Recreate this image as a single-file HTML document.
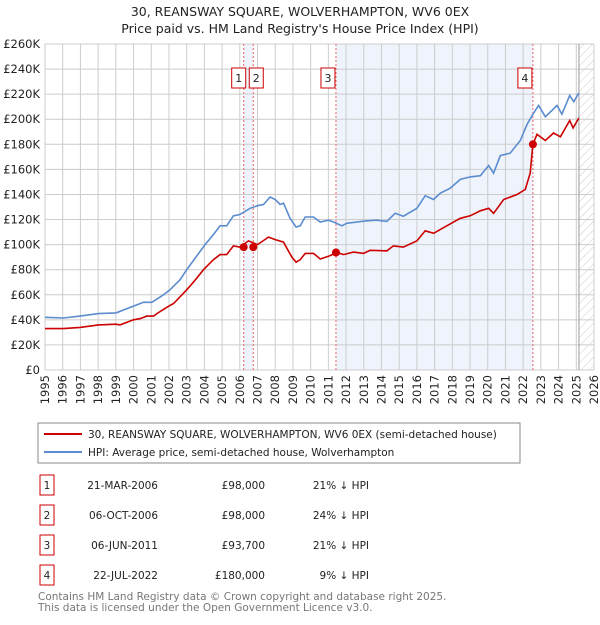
<!DOCTYPE html>
<html><head><meta charset="utf-8"><style>
body{margin:0;background:#fff;font-family:"Liberation Sans","DejaVu Sans",sans-serif;}
svg text{font-family:"DejaVu Sans","Liberation Sans",sans-serif;}
</style></head><body>
<svg id="c" width="600" height="620" xmlns="http://www.w3.org/2000/svg">
<defs><pattern id="hatch" width="6" height="6" patternUnits="userSpaceOnUse" patternTransform="rotate(45)"><line x1="0" y1="0" x2="0" y2="6" stroke="#ccc" stroke-width="1"/></pattern></defs>
<text x="300" y="16" text-anchor="middle" font-size="12.5" fill="#222">30, REANSWAY SQUARE, WOLVERHAMPTON, WV6 0EX</text>
<text x="300" y="33" text-anchor="middle" font-size="12.5" fill="#222">Price paid vs. HM Land Registry's House Price Index (HPI)</text>
<g id="plot"></g>
<rect x="38" y="423" width="482" height="40" fill="#fff" stroke="#888"/>
<line x1="44" y1="434" x2="82" y2="434" stroke="#cc0000" stroke-width="2"/>
<text x="88" y="438" font-size="10.5" fill="#222">30, REANSWAY SQUARE, WOLVERHAMPTON, WV6 0EX (semi-detached house)</text>
<line x1="44" y1="452" x2="82" y2="452" stroke="#5b8ccf" stroke-width="2"/>
<text x="88" y="456" font-size="10.5" fill="#222">HPI: Average price, semi-detached house, Wolverhampton</text>
<g id="tbl" font-size="10.5" fill="#222"></g>
<text x="38" y="600" font-size="10.5" fill="#777">Contains HM Land Registry data © Crown copyright and database right 2025.</text>
<text x="38" y="611" font-size="10.5" fill="#777">This data is licensed under the Open Government Licence v3.0.</text>
</svg>
<script>
const hpiYears=[1995,1996.04,1996.98,1998.01,1999.01,2000,2000.56,2001.03,2001.69,2002.06,2002.63,2003,2003.57,2004.04,2004.51,2004.89,2005.26,2005.64,2006,2006.58,2007,2007.34,2007.71,2008,2008.28,2008.47,2008.84,2009.18,2009.41,2009.69,2010.16,2010.54,2011.01,2011.29,2011.76,2012.04,2012.61,2013.17,2013.74,2014.3,2014.77,2015.24,2016,2016.47,2016.94,2017.32,2017.88,2018.45,2019.01,2019.58,2020.05,2020.33,2020.71,2021.27,2021.84,2022.22,2022.59,2022.87,2023.25,2023.62,2023.91,2024.19,2024.63,2024.86,2025.14];
const hpiValues=[42,41.5,43,45,45.5,51,54,54,60,64,72,80,91,100,108,115,115,123,124,129,131,132,138,136,132,133,121,114,115,122,122,118,119.5,118,115,117,118,119,119.5,118.5,125,122.7,129,139,136,141,145,152,154,155,163,157,171,173,183,196,205,211,202,207,211,204,219,214,221];
const ppYears=[1995,1996.04,1996.98,1998.01,1999.01,1999.24,2000,2000.38,2000.75,2001.13,2001.32,2001.88,2002.26,2003,2003.38,2003.95,2004.51,2004.89,2005.26,2005.64,2006,2006.49,2007,2007.62,2008,2008.47,2008.94,2009.18,2009.41,2009.69,2010.16,2010.54,2011.01,2011.48,2011.86,2012.42,2012.99,2013.36,2014.3,2014.67,2015.24,2016,2016.47,2016.94,2017.69,2018.45,2019.01,2019.58,2020.05,2020.33,2020.9,2021.65,2022.12,2022.4,2022.55,2022.78,2023.25,2023.72,2024.1,2024.63,2024.82,2025.14];
const ppValues=[33,33,34,36,36.5,36,40,41,43,43,45,50,53,64,70,80,88,92,92,99,98,103,100,106,104,102,90,86,88,93,93,88.5,90.7,93.7,92,94,93,95.5,95,99,98,103,111,109,115,121,123,127,129,125,136,140,144,157,180,188,183,189,186,199,193,201];
const saleLabels=["1","2","3","4"];
const saleYears=[2006.22,2006.76,2011.43,2022.55];
const saleValues=[98,98,93.7,180];
const saleDates=["21-MAR-2006","06-OCT-2006","06-JUN-2011","22-JUL-2022"];
const salePrices=["£98,000","£98,000","£93,700","£180,000"];
const saleDiffs=["21% ↓ HPI","24% ↓ HPI","21% ↓ HPI","9% ↓ HPI"];
const yTicks=[0,20,40,60,80,100,120,140,160,180,200,220,240,260];
const xTicks=[1995,1996,1997,1998,1999,2000,2001,2002,2003,2004,2005,2006,2007,2008,2009,2010,2011,2012,2013,2014,2015,2016,2017,2018,2019,2020,2021,2022,2023,2024,2025,2026];
const hatchStart=2025.15;
const L=45,R=594,T=44,B=370;
const X=y=>L+(y-1995)/31*(R-L);
const Y=v=>B-v/260*(B-T);
const NS="http://www.w3.org/2000/svg";
const g=document.getElementById('plot');
function mk(t,a,p){const e=document.createElementNS(NS,t);for(const k in a)e.setAttribute(k,a[k]);(p||g).appendChild(e);return e;}
let e;
e=mk('rect',{x:X(saleYears[0]),y:T,width:X(saleYears[1])-X(saleYears[0]),height:B-T,fill:'#eef3fc'});


e=mk('rect',{x:X(saleYears[2]),y:T,width:X(saleYears[3])-X(saleYears[2]),height:B-T,fill:'#eef3fc'});


e=mk('rect',{x:X(hatchStart),y:T,width:R-X(hatchStart),height:B-T,fill:'url(#hatch)'});


yTicks.forEach(v=>{
 e=mk('line',{x1:L,x2:R,y1:Y(v),y2:Y(v),stroke:'#ccc','stroke-width':1});
 
 
 e=mk('text',{x:L-5,y:Y(v)+4,'text-anchor':'end','font-size':11.5,fill:'#222'});
 e.textContent=v===0?'£0':'£'+v+'K';
 
 
});
xTicks.forEach(t=>{
 e=mk('line',{x1:X(t),x2:X(t),y1:T,y2:B,stroke:'#ccc','stroke-width':1});
 
 
 e=mk('text',{x:0,y:0,'text-anchor':'end','font-size':11.5,fill:'#222',transform:`translate(${X(t)+4},${B+5}) rotate(-90)`});
 e.textContent=t;
 
 
});
e=mk('line',{x1:X(hatchStart),x2:X(hatchStart),y1:T,y2:B,stroke:'#999','stroke-width':1});


saleYears.forEach((s,i)=>{
 e=mk('line',{x1:X(s),x2:X(s),y1:T,y2:B,stroke:'#e66','stroke-width':1,'stroke-dasharray':'2,2'});
 
 
});
const pts=(xs,vs)=>xs.map((x,i)=>X(x).toFixed(1)+','+Y(vs[i]).toFixed(1)).join(' ');
e=mk('polyline',{points:pts(hpiYears,hpiValues),fill:'none',stroke:'#5b8ccf','stroke-width':1.6});


e=mk('polyline',{points:pts(ppYears,ppValues),fill:'none',stroke:'#cc0000','stroke-width':1.6});


saleYears.forEach((s,i)=>{
 e=mk('circle',{cx:X(s),cy:Y(saleValues[i]),r:4,fill:'#cc0000'});
 
 
 const bx=(i===0)?X(s)-12:(i===1?X(s)-4:X(s)-15);
 e=mk('rect',{x:bx,y:68,width:14,height:20,fill:'#fff',stroke:'#cc0000'});
 
 
 e=mk('text',{x:bx+7,y:82,'text-anchor':'middle','font-size':11,fill:'#222'});
 e.textContent=saleLabels[i];
 
 
});
const tb=document.getElementById('tbl');
saleLabels.forEach((l,i)=>{
 const y=488+i*30;
 e=mk('rect',{x:40,y:y-13,width:14,height:20,fill:'#fff',stroke:'#cc0000'},tb);
 
 
 e=mk('text',{x:47,y:y+1,'text-anchor':'middle'},tb);e.textContent=l;
 
 
 e=mk('text',{x:158,y:y+1,'text-anchor':'end'},tb);e.textContent=saleDates[i];
 
 
 e=mk('text',{x:265,y:y+1,'text-anchor':'end'},tb);e.textContent=salePrices[i];
 
 
 e=mk('text',{x:369,y:y+1,'text-anchor':'end'},tb);e.textContent=saleDiffs[i];
 
 
});
</script>
</body></html>
